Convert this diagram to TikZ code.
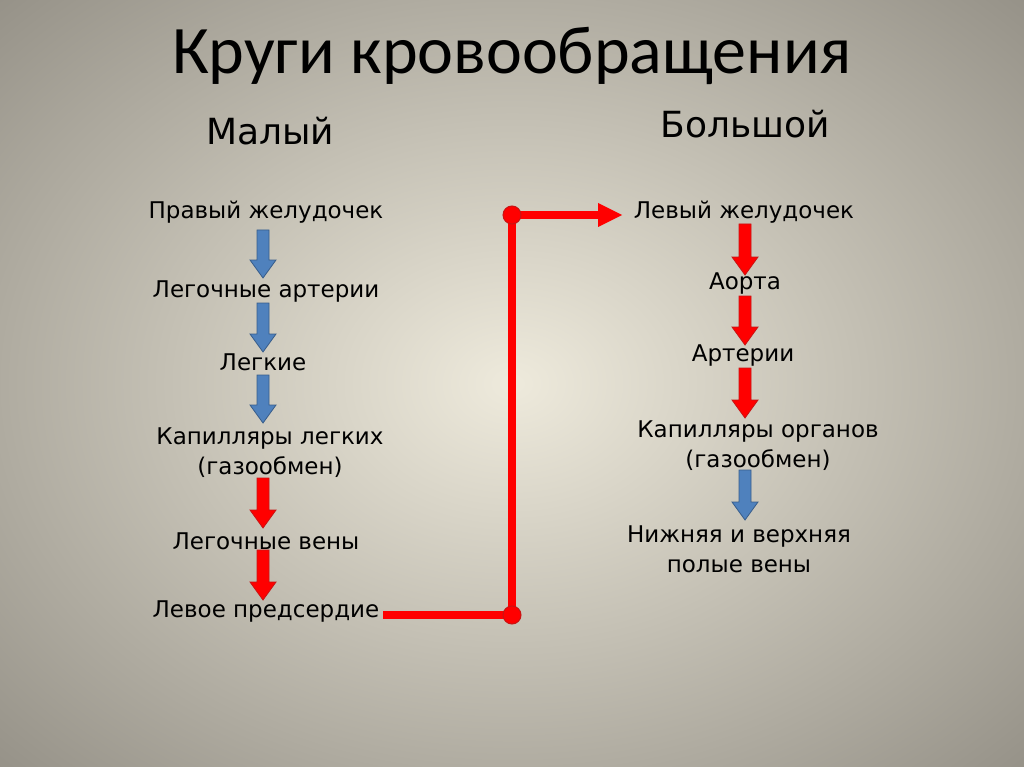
\documentclass[tikz,border=0pt]{standalone}
\usepackage{fontspec}
\setmainfont{DejaVu Sans}
\newfontfamily\titlefont{Carlito}
\definecolor{bgin}{RGB}{238,234,220}
\definecolor{bgout}{RGB}{112,108,100}
\definecolor{ablue}{RGB}{79,129,189}
\definecolor{ablueb}{RGB}{56,93,138}
\definecolor{ared}{RGB}{255,0,0}
\definecolor{aredb}{RGB}{200,20,20}
\newcommand\blockarr[4]{%
  \filldraw[fill=#4, draw=#4b, line width=0.8pt]
    (#1-6,#2) -- (#1+6,#2) -- (#1+6,#3-18) -- (#1+13,#3-18) -- (#1,#3)
    -- (#1-13,#3-18) -- (#1-6,#3-18) -- cycle;}
\begin{document}
\begin{tikzpicture}[x=1pt,y=-1pt,
  lbl/.style={font=\fontsize{23}{30}\selectfont, align=center, inner sep=0pt},
  hdr/.style={font=\fontsize{36}{40}\selectfont, inner sep=0pt},
  conn/.style={draw=ared, line width=8pt},
  dot/.style={circle, fill=ared, draw=aredb, line width=1pt, minimum size=18pt, inner sep=0pt}]
\useasboundingbox (0,0) rectangle (1024,767);
\begin{scope}
\clip (0,0) rectangle (1024,767);
\shade[inner color=bgin, outer color=bgout] (-520,-400) rectangle (1544,1167);
\end{scope}
\node[font=\titlefont\fontsize{68}{72}\selectfont, inner sep=0pt] (title) at (512,56) {Круги кровообращения};
\node[hdr] (mal) at (270,131) {Малый};
\node[hdr] (bol) at (745,124) {Большой};
% left
\node[lbl] (l1) at (266,212) {Правый желудочек};
\node[lbl] (l2) at (266,292) {Легочные артерии};
\node[lbl] (l3) at (263,362) {Легкие};
\node[lbl] (l4) at (270,453) {Капилляры легких\\(газообмен)};
\node[lbl] (l5) at (266,541) {Легочные вены};
\node[lbl] (l6) at (266,612) {Левое предсердие};
\blockarr{263}{230}{278}{ablue}
\blockarr{263}{303}{352}{ablue}
\blockarr{263}{375}{423}{ablue}
\blockarr{263}{478}{528}{ared}
\blockarr{263}{550}{600}{ared}
% right
\node[lbl] (r1) at (744,212) {Левый желудочек};
\node[lbl] (r2) at (745,284) {Аорта};
\node[lbl] (r3) at (743,356) {Артерии};
\node[lbl] (r4) at (758,446) {Капилляры органов\\(газообмен)};
\node[lbl] (r5) at (739,549) {Нижняя и верхняя\\полые вены};
\blockarr{745}{224}{275}{ared}
\blockarr{745}{296}{345}{ared}
\blockarr{745}{368}{418}{ared}
\blockarr{745}{470}{520}{ablue}
% connector
\coordinate (c0) at (383,615);
\coordinate (c1) at (512,615);
\coordinate (c2) at (512,215);
\coordinate (c3) at (600,215);
\draw[conn] (c0) -- (c1) -- (c2) -- (c3);
\fill[ared] (598,203) -- (622,215) -- (598,227) -- cycle;
\node[dot] at (c1) {};
\node[dot] at (c2) {};
\end{tikzpicture}
\end{document}
